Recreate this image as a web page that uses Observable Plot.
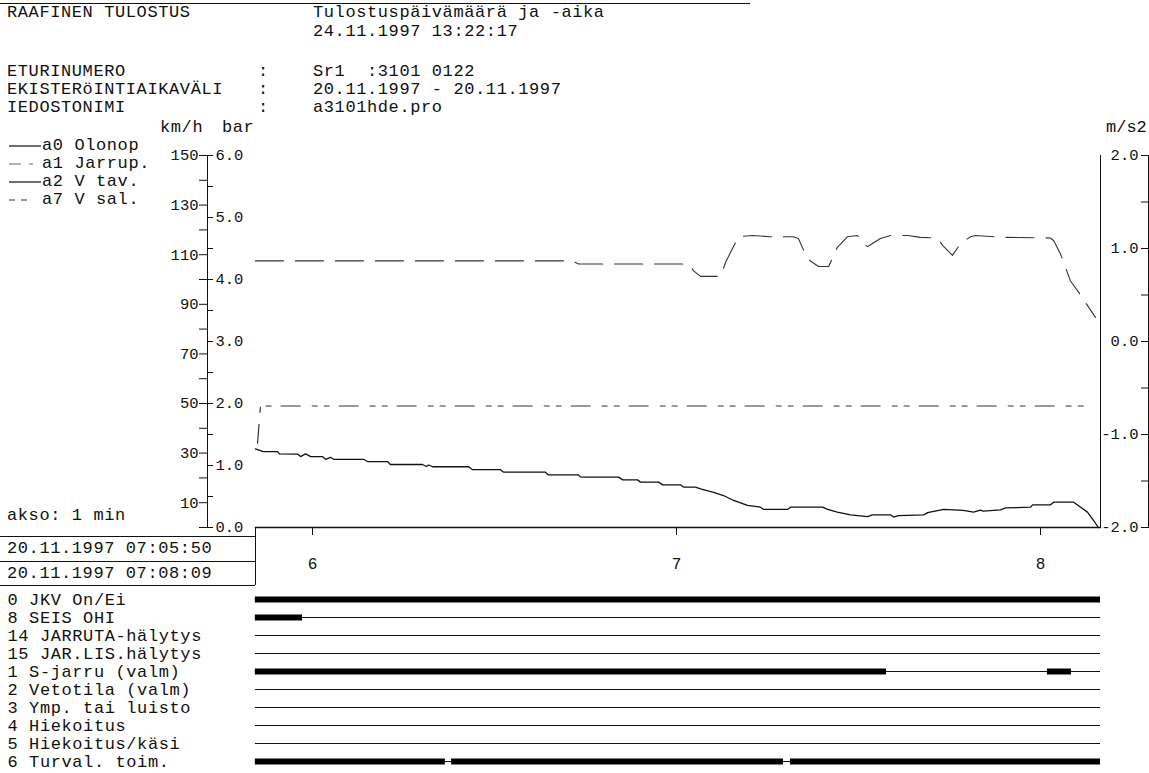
<!DOCTYPE html>
<html><head><meta charset="utf-8">
<script src="https://cdn.jsdelivr.net/npm/d3@7"></script>
<script src="https://cdn.jsdelivr.net/npm/@observablehq/plot@0.6"></script>
<style>
body{margin:0;background:#fff;}
#page{position:relative;width:1149px;height:773px;overflow:hidden;background:#fff;font-family:"Liberation Mono","DejaVu Sans Mono",monospace;color:#111;}
.t{position:absolute;white-space:pre;font-size:17px;letter-spacing:0.6px;line-height:18px;height:18px;}
.hl{position:absolute;height:0;border-top:1px solid #111;}
.vl{position:absolute;width:0;border-left:1px solid #111;}
#analog,#digital{position:absolute;left:0;}
#analog{top:0;} #digital{top:585px;}
</style></head><body>
<div id="page">
  <div class="hl" style="left:0;top:3px;width:750px"></div>
  <div class="t" style="left:7px;top:4px">RAAFINEN TULOSTUS</div>
  <div class="t" style="left:313px;top:4px">Tulostuspäivämäärä ja -aika</div>
  <div class="t" style="left:313px;top:23px">24.11.1997 13:22:17</div>
  <div class="t" style="left:7px;top:63px">ETURINUMERO</div>
  <div class="t" style="left:258px;top:63px">:</div>
  <div class="t" style="left:313px;top:63px">Sr1  :3101 0122</div>
  <div class="t" style="left:7px;top:81px">EKISTERöINTIAIKAVÄLI</div>
  <div class="t" style="left:258px;top:81px">:</div>
  <div class="t" style="left:313px;top:81px">20.11.1997 - 20.11.1997</div>
  <div class="t" style="left:7px;top:99px">IEDOSTONIMI</div>
  <div class="t" style="left:258px;top:99px">:</div>
  <div class="t" style="left:313px;top:99px">a3101hde.pro</div>

  <div id="analog"></div>
  <div id="digital"></div>

  <div class="t" style="left:160px;top:119px">km/h</div>
  <div class="t" style="left:222px;top:119px">bar</div>
  <div class="t" style="left:1106px;top:119px;letter-spacing:0">m/s2</div>

  <svg style="position:absolute;left:0;top:0" width="45" height="210">
    <line x1="9" x2="41" y1="146" y2="146" stroke="#111" stroke-width="1.2"/>
    <line x1="9" x2="41" y1="164" y2="164" stroke="#666" stroke-width="1" stroke-dasharray="12,8,4,20"/>
    <line x1="9" x2="41" y1="182" y2="182" stroke="#111" stroke-width="1.2"/>
    <line x1="9" x2="30" y1="200" y2="200" stroke="#333" stroke-width="1" stroke-dasharray="6,6"/>
  </svg>
  <div class="t" style="left:42px;top:137px">a0 Olonop</div>
  <div class="t" style="left:42px;top:155px">a1 Jarrup.</div>
  <div class="t" style="left:42px;top:173px">a2 V tav.</div>
  <div class="t" style="left:42px;top:191px">a7 V sal.</div>

  <div class="t" style="left:7px;top:507px">akso: 1 min</div>
  <div class="hl" style="left:0;top:536px;width:255px"></div>
  <div class="t" style="left:7px;top:540px">20.11.1997 07:05:50</div>
  <div class="hl" style="left:0;top:561px;width:255px"></div>
  <div class="t" style="left:7px;top:565px">20.11.1997 07:08:09</div>
  <div class="hl" style="left:0;top:585px;width:255px"></div>
  <div class="vl" style="left:255px;top:528px;height:57px"></div>
</div>
<script>
// time in minutes after 07:00
const axisTimeStart = 5.7115, axisTimeEnd = 8.1648;
const recordStart = 5.843, recordEnd = 8.1648;

// a0 Olonop (km/h)
const speedTime = [5.843,5.865,5.904,5.909,5.959,5.967,5.981,5.995,6.027,6.036,6.049,6.058,6.140,6.151,6.206,6.214,6.302,6.313,6.319,6.330,6.429,6.440,6.516,6.525,6.640,6.648,6.731,6.736,6.745,6.841,6.852,6.893,6.901,6.951,6.962,7.011,7.019,7.052,7.066,7.102,7.129,7.157,7.195,7.231,7.239,7.305,7.313,7.401,7.415,7.442,7.478,7.525,7.538,7.588,7.596,7.610,7.679,7.690,7.734,7.788,7.816,7.835,7.843,7.890,7.904,7.973,7.978,8.027,8.036,8.091,8.129,8.146,8.159];
const speedKmh = [31.7,30.6,30.6,29.7,29.6,28.6,29.7,28.6,28.6,27.5,28.3,27.5,27.5,26.6,26.6,25.4,25.4,24.6,25.2,24.5,24.5,23.3,23.3,22.3,22.3,21.2,21.2,20.4,20.3,20.3,19.2,19.2,18.3,18.3,17.2,17.2,16.3,16.3,15.6,14.2,12.9,10.9,8.9,8.2,7.3,7.3,8.2,8.2,7.3,6.2,5.1,4.4,5.1,5.1,4.2,4.8,5.1,6.0,7.3,6.9,6.2,7.0,6.6,7.1,7.9,8.2,9.1,9.1,10.2,10.2,6.2,2.8,0];

// a1 Jarrup. (bar)
const brakeTime = [5.843,6.714,6.731,7.033,7.047,7.066,7.121,7.135,7.170,7.209,7.258,7.321,7.335,7.360,7.390,7.418,7.442,7.470,7.497,7.511,7.525,7.533,7.560,7.588,7.635,7.670,7.717,7.731,7.758,7.780,7.808,7.821,7.898,8.027,8.036,8.055,8.082,8.104,8.151];
const brakeBar = [4.30,4.30,4.25,4.25,4.14,4.05,4.05,4.28,4.69,4.71,4.69,4.69,4.66,4.33,4.21,4.21,4.52,4.69,4.71,4.60,4.53,4.56,4.66,4.71,4.71,4.68,4.67,4.55,4.39,4.58,4.69,4.71,4.68,4.67,4.63,4.41,3.98,3.80,3.39];

// a2 V tav. (km/h)
const vtavTime = [5.843, 8.1648];
const vtavKmh = [0, 0];

// a7 V sal. (km/h)
const vsalTime = [5.849, 5.857, 8.132];
const vsalKmh = [34, 49, 49];

// axes
const kmhTicks = [0,10,20,30,40,50,60,70,80,90,100,110,120,130,140,150];
const kmhLabels = [10,30,50,70,90,110,130,150];
const barTicks = [0,0.5,1,1.5,2,2.5,3,3.5,4,4.5,5,5.5,6];
const accTicks = [-2,-1.5,-1,-0.5,0,0.5,1,1.5,2];
const timeTicks = [6,7,8];
const KMH_PER_BAR = 25;         // 6 bar spans the 150 km/h axis
const ACC_MIN = -2, KMH_PER_ACC = 37.5; // -2..2 m/s2 spans 0..150

// digital channels
const channels = ["0 JKV On/Ei","8 SEIS OHI","14 JARRUTA-hälytys","15 JAR.LIS.hälytys","1 S-jarru (valm)","2 Vetotila (valm)","3 Ymp. tai luisto","4 Hiekoitus","5 Hiekoitus/käsi","6 Turval. toim."];
const activeChannel = ["0 JKV On/Ei","8 SEIS OHI","1 S-jarru (valm)","1 S-jarru (valm)","6 Turval. toim.","6 Turval. toim.","6 Turval. toim."];
const activeStart = [5.843,5.843,5.843,8.019,5.843,6.382,7.313];
const activeEnd = [8.1648,5.9725,7.577,8.085,6.365,7.294,8.1648];

const speed = speedTime.map((t,i)=>({t, v: speedKmh[i]}));
const brake = brakeTime.map((t,i)=>({t, p: brakeBar[i]}));
const vtav = vtavTime.map((t,i)=>({t, v: vtavKmh[i]}));
const vsal = vsalTime.map((t,i)=>({t, v: vsalKmh[i]}));
const active = activeChannel.map((c,i)=>({ch:c, start: activeStart[i], end: activeEnd[i]}));

const isInt = v => Math.abs(v - Math.round(v)) < 1e-9;

const analog = Plot.plot({
  width: 1149, height: 590,
  marginLeft: 207, marginRight: 49, marginTop: 155, marginBottom: 63,
  x: {domain: [axisTimeStart, axisTimeEnd]},
  y: {domain: [0, 150]},
  style: {fontFamily: "'Liberation Mono', monospace", fontSize: "15.5px", color: "#111", background: "transparent", overflow: "visible"},
  marks: [
    Plot.ruleX([axisTimeStart, axisTimeEnd], {stroke: "#111"}),
    Plot.ruleX([axisTimeEnd], {dx: 48, stroke: "#111"}),
    Plot.axisY(kmhTicks, {anchor: "left", tickSize: 8, tickPadding: 1, label: null,
      tickFormat: d => kmhLabels.includes(d) ? String(d) : ""}),
    Plot.axisY(barTicks.map(b => b * KMH_PER_BAR), {anchor: "left", tickSize: -6, tickPadding: -2, textAnchor: "start", label: null,
      tickFormat: d => isInt(d / KMH_PER_BAR) ? (d / KMH_PER_BAR).toFixed(1) : ""}),
    Plot.axisY(accTicks.map(a => (a - ACC_MIN) * KMH_PER_ACC), {anchor: "right", dx: 48, tickSize: -8, tickPadding: -2, textAnchor: "end", label: null,
      tickFormat: d => { const a = d / KMH_PER_ACC + ACC_MIN; return isInt(a) ? a.toFixed(1) : ""; }}),
    Plot.axisX(timeTicks, {anchor: "bottom", tickSize: 8, tickPadding: 22, label: null, tickFormat: d => String(d), fontSize: 16}),
    Plot.line(vtav, {x: "t", y: "v", stroke: "#111", strokeWidth: 1.4}),
    Plot.line(vsal, {x: "t", y: "v", stroke: "#333", strokeWidth: 1.2, strokeDasharray: "19,12,5,7,5,10"}),
    Plot.line(brake, {x: "t", y: d => d.p * KMH_PER_BAR, stroke: "#333", strokeWidth: 1.1, strokeDasharray: "28,12"}),
    Plot.line(speed, {x: "t", y: "v", stroke: "#111", strokeWidth: 1.3})
  ]
});
document.getElementById("analog").appendChild(analog);

const digital = Plot.plot({
  width: 1149, height: 188,
  marginLeft: 0, marginRight: 0, marginTop: 0, marginBottom: 0,
  x: {domain: [axisTimeStart, axisTimeEnd], range: [207, 1100], axis: null},
  y: {type: "point", domain: channels, range: [10, 179], padding: 0, axis: null},
  style: {fontFamily: "'Liberation Mono', monospace", fontSize: "17px", letterSpacing: "0.6px", color: "#111", background: "transparent"},
  marks: [
    Plot.ruleY(channels, {y: d => d, x1: () => recordStart, x2: () => recordEnd, stroke: "#111", strokeWidth: 1.2}),
    Plot.ruleY(active, {y: "ch", x1: "start", x2: "end", stroke: "#000", strokeWidth: 6}),
    Plot.text(channels, {y: d => d, frameAnchor: "left", dx: 7, textAnchor: "start", text: d => d, fill: "#111"})
  ]
});
document.getElementById("digital").appendChild(digital);
</script>
</body></html>
